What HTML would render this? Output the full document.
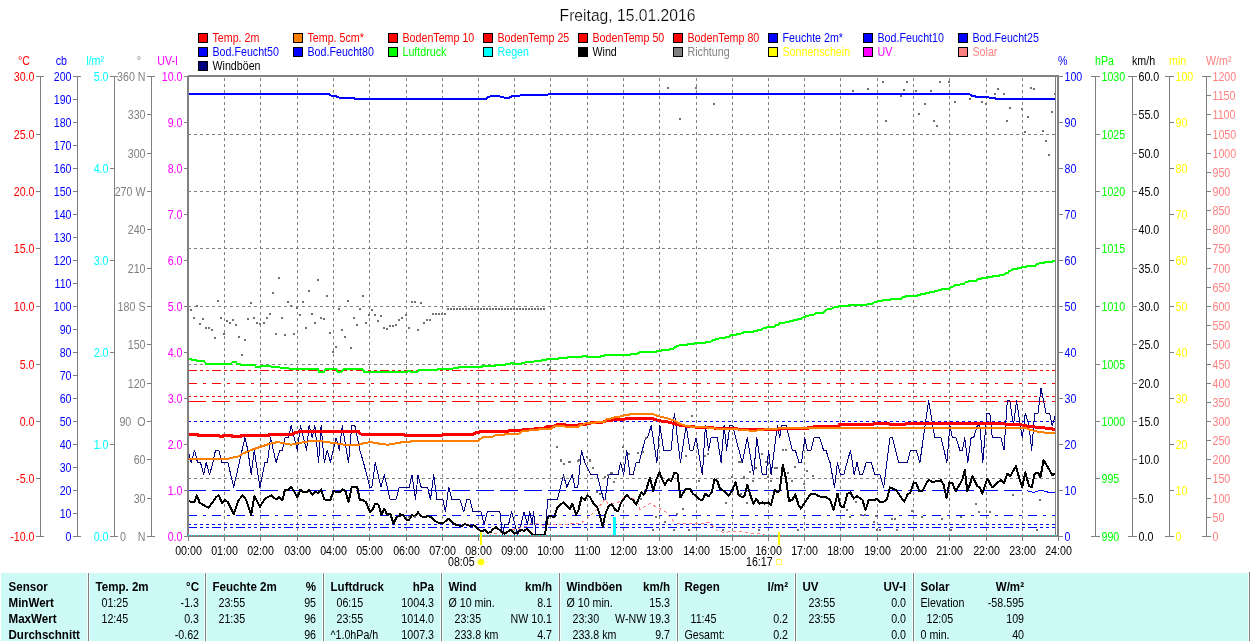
<!DOCTYPE html>
<html><head><meta charset="utf-8"><title>Freitag, 15.01.2016</title>
<style>
html,body{margin:0;padding:0;background:#fff;}
body{width:1250px;height:641px;overflow:hidden;position:relative;font-family:"Liberation Sans", sans-serif;}
svg{position:absolute;left:0;top:0;display:block;will-change:transform;}
text{font-family:"Liberation Sans", sans-serif;}
.ax{font-size:12px;}
.tm{font-size:12px;}
.tb{font-size:12px;}
.tbb{font-size:12px;font-weight:bold;}
</style></head><body>
<svg width="1250" height="641" viewBox="0 0 1250 641">
<rect x="0" y="0" width="1250" height="641" fill="#ffffff"/>
<text transform="translate(627.5 20.5) scale(0.98 1)" text-anchor="middle" fill="#000" font-size="16" stroke="#fff" stroke-width="0.25" paint-order="fill stroke">Freitag, 15.01.2016</text>
<g class="ax">
<rect x="198" y="33" width="10" height="10" fill="#000"/><rect x="199" y="34" width="8" height="8" fill="#ff0000"/>
<text transform="translate(212.5 42) scale(0.89 1)" fill="#ff0000">Temp. 2m</text>
<rect x="293" y="33" width="10" height="10" fill="#000"/><rect x="294" y="34" width="8" height="8" fill="#ff8000"/>
<text transform="translate(307.5 42) scale(0.89 1)" fill="#ff0000">Temp. 5cm*</text>
<rect x="388" y="33" width="10" height="10" fill="#000"/><rect x="389" y="34" width="8" height="8" fill="#ff0000"/>
<text transform="translate(402.5 42) scale(0.89 1)" fill="#ff0000">BodenTemp 10</text>
<rect x="483" y="33" width="10" height="10" fill="#000"/><rect x="484" y="34" width="8" height="8" fill="#ff0000"/>
<text transform="translate(497.5 42) scale(0.89 1)" fill="#ff0000">BodenTemp 25</text>
<rect x="578" y="33" width="10" height="10" fill="#000"/><rect x="579" y="34" width="8" height="8" fill="#ff0000"/>
<text transform="translate(592.5 42) scale(0.89 1)" fill="#ff0000">BodenTemp 50</text>
<rect x="673" y="33" width="10" height="10" fill="#000"/><rect x="674" y="34" width="8" height="8" fill="#ff0000"/>
<text transform="translate(687.5 42) scale(0.89 1)" fill="#ff0000">BodenTemp 80</text>
<rect x="768" y="33" width="10" height="10" fill="#000"/><rect x="769" y="34" width="8" height="8" fill="#0000ff"/>
<text transform="translate(782.5 42) scale(0.89 1)" fill="#0000ff">Feuchte 2m*</text>
<rect x="863" y="33" width="10" height="10" fill="#000"/><rect x="864" y="34" width="8" height="8" fill="#0000ff"/>
<text transform="translate(877.5 42) scale(0.89 1)" fill="#0000ff">Bod.Feucht10</text>
<rect x="958" y="33" width="10" height="10" fill="#000"/><rect x="959" y="34" width="8" height="8" fill="#0000ff"/>
<text transform="translate(972.5 42) scale(0.89 1)" fill="#0000ff">Bod.Feucht25</text>
<rect x="198" y="47" width="10" height="10" fill="#000"/><rect x="199" y="48" width="8" height="8" fill="#0000ff"/>
<text transform="translate(212.5 56) scale(0.89 1)" fill="#0000ff">Bod.Feucht50</text>
<rect x="293" y="47" width="10" height="10" fill="#000"/><rect x="294" y="48" width="8" height="8" fill="#0000ff"/>
<text transform="translate(307.5 56) scale(0.89 1)" fill="#0000ff">Bod.Feucht80</text>
<rect x="388" y="47" width="10" height="10" fill="#000"/><rect x="389" y="48" width="8" height="8" fill="#00ff00"/>
<text transform="translate(402.5 56) scale(0.89 1)" fill="#00ff00">Luftdruck</text>
<rect x="483" y="47" width="10" height="10" fill="#000"/><rect x="484" y="48" width="8" height="8" fill="#00ffff"/>
<text transform="translate(497.5 56) scale(0.89 1)" fill="#00ffff">Regen</text>
<rect x="578" y="47" width="10" height="10" fill="#000"/><rect x="579" y="48" width="8" height="8" fill="#000000"/>
<text transform="translate(592.5 56) scale(0.89 1)" fill="#000000">Wind</text>
<rect x="673" y="47" width="10" height="10" fill="#000"/><rect x="674" y="48" width="8" height="8" fill="#808080"/>
<text transform="translate(687.5 56) scale(0.89 1)" fill="#808080">Richtung</text>
<rect x="768" y="47" width="10" height="10" fill="#000"/><rect x="769" y="48" width="8" height="8" fill="#ffff00"/>
<text transform="translate(782.5 56) scale(0.89 1)" fill="#ffff00">Sonnenschein</text>
<rect x="863" y="47" width="10" height="10" fill="#000"/><rect x="864" y="48" width="8" height="8" fill="#ff00ff"/>
<text transform="translate(877.5 56) scale(0.89 1)" fill="#ff00ff">UV</text>
<rect x="958" y="47" width="10" height="10" fill="#000"/><rect x="959" y="48" width="8" height="8" fill="#ff8080"/>
<text transform="translate(972.5 56) scale(0.89 1)" fill="#ff8080">Solar</text>
<rect x="198" y="61" width="10" height="10" fill="#000"/><rect x="199" y="62" width="8" height="8" fill="#000080"/>
<text transform="translate(212.5 70) scale(0.89 1)" fill="#000000">Windböen</text>
</g>
<g shape-rendering="crispEdges" stroke="#808080" stroke-width="1" fill="none">
<line x1="224.5" y1="78" x2="224.5" y2="535" stroke-dasharray="3 3"/>
<line x1="260.5" y1="78" x2="260.5" y2="535" stroke-dasharray="3 3"/>
<line x1="297.5" y1="78" x2="297.5" y2="535" stroke-dasharray="3 3"/>
<line x1="333.5" y1="78" x2="333.5" y2="535" stroke-dasharray="3 3"/>
<line x1="369.5" y1="78" x2="369.5" y2="535" stroke-dasharray="3 3"/>
<line x1="406.5" y1="78" x2="406.5" y2="535" stroke-dasharray="3 3"/>
<line x1="442.5" y1="78" x2="442.5" y2="535" stroke-dasharray="3 3"/>
<line x1="478.5" y1="78" x2="478.5" y2="535" stroke-dasharray="3 3"/>
<line x1="514.5" y1="78" x2="514.5" y2="535" stroke-dasharray="3 3"/>
<line x1="550.5" y1="78" x2="550.5" y2="535" stroke-dasharray="3 3"/>
<line x1="587.5" y1="78" x2="587.5" y2="535" stroke-dasharray="3 3"/>
<line x1="623.5" y1="78" x2="623.5" y2="535" stroke-dasharray="3 3"/>
<line x1="659.5" y1="78" x2="659.5" y2="535" stroke-dasharray="3 3"/>
<line x1="696.5" y1="78" x2="696.5" y2="535" stroke-dasharray="3 3"/>
<line x1="732.5" y1="78" x2="732.5" y2="535" stroke-dasharray="3 3"/>
<line x1="768.5" y1="78" x2="768.5" y2="535" stroke-dasharray="3 3"/>
<line x1="804.5" y1="78" x2="804.5" y2="535" stroke-dasharray="3 3"/>
<line x1="840.5" y1="78" x2="840.5" y2="535" stroke-dasharray="3 3"/>
<line x1="877.5" y1="78" x2="877.5" y2="535" stroke-dasharray="3 3"/>
<line x1="913.5" y1="78" x2="913.5" y2="535" stroke-dasharray="3 3"/>
<line x1="949.5" y1="78" x2="949.5" y2="535" stroke-dasharray="3 3"/>
<line x1="986.5" y1="78" x2="986.5" y2="535" stroke-dasharray="3 3"/>
<line x1="1022.5" y1="78" x2="1022.5" y2="535" stroke-dasharray="3 3"/>
<line x1="188" y1="134.5" x2="1055" y2="134.5" stroke-dasharray="3 3"/>
<line x1="188" y1="191.5" x2="1055" y2="191.5" stroke-dasharray="3 3"/>
<line x1="188" y1="248.5" x2="1055" y2="248.5" stroke-dasharray="3 3"/>
<line x1="188" y1="306.5" x2="1055" y2="306.5" stroke-dasharray="3 3"/>
<line x1="188" y1="364.5" x2="1055" y2="364.5" stroke-dasharray="3 3"/>
<line x1="188" y1="421.5" x2="1055" y2="421.5" stroke-dasharray="3 3"/>
<line x1="188" y1="478.5" x2="1055" y2="478.5" stroke-dasharray="3 3"/>
</g>
<g shape-rendering="crispEdges" stroke-linejoin="round">
<line x1="188" y1="370.5" x2="1055" y2="370.5" stroke="#ff0000" stroke-dasharray="9 3 3 3 3 3"/>
<line x1="188" y1="383.5" x2="1055" y2="383.5" stroke="#ff0000" stroke-dasharray="9 6 3 6"/>
<line x1="188" y1="396.5" x2="1055" y2="396.5" stroke="#ff0000" stroke-dasharray="3 3"/>
<line x1="188" y1="401.5" x2="1055" y2="401.5" stroke="#ff0000" stroke-dasharray="18 6"/>
<line x1="188" y1="421.5" x2="1055" y2="421.5" stroke="#0000ff" stroke-dasharray="3 3"/>
<line x1="188" y1="490.5" x2="1027" y2="490.5" stroke="#0000ff" stroke-dasharray="18 6"/>
<polyline points="1027.2,490.5 1029.7,491.6 1033.5,492.4 1037.2,491.1 1041.0,490.5 1044.7,491.1 1049.0,492.5 1055.0,492.5" fill="none" stroke="#0000ff" stroke-width="1" />
<line x1="188" y1="515.5" x2="1055" y2="515.5" stroke="#0000ff" stroke-dasharray="9 6 3 6"/>
<line x1="188" y1="524.5" x2="1055" y2="524.5" stroke="#0000ff" stroke-dasharray="3 3"/>
<line x1="188" y1="527.5" x2="1055" y2="527.5" stroke="#0000ff" stroke-dasharray="9 3 3 3 3 3"/>
<polyline points="188.0,450.1 191.2,462.5 194.5,450.1 197.5,462.5 200.5,462.5 203.7,474.8 206.2,462.5 209.5,474.8 213.0,462.5 215.5,450.1 218.7,450.1 222.0,462.5 227.9,462.5 233.7,487.2 244.9,437.8 247.9,450.1 251.2,474.8 254.2,450.1 259.9,487.2 264.9,462.5 267.4,462.5 270.6,437.8 276.1,462.5 279.9,450.1 282.4,450.1 284.9,437.8 288.6,437.8 291.1,425.5 297.4,450.1 300.4,425.5 306.6,450.1 309.1,425.5 312.3,437.8 314.8,425.5 318.6,462.5 321.1,425.5 324.3,462.5 327.3,450.1 330.3,462.5 336.1,437.8 339.3,450.1 342.3,425.5 348.5,462.5 351.8,425.5 354.8,425.5 359.8,450.1 363.5,462.5 369.8,487.2 371.8,487.2 375.3,462.5 381.0,487.2 384.3,474.8 390.2,499.5 396.0,499.5 399.2,487.2 400.0,487.2 402.2,487.2 409.2,487.2 412.0,474.8 415.5,499.5 418.0,474.8 421.2,487.2 427.5,487.2 430.5,499.5 433.7,474.8 437.0,499.5 442.9,499.5 445.4,511.8 448.7,487.2 451.9,499.5 459.9,499.5 463.7,511.8 466.9,499.5 469.9,499.5 472.9,511.8 481.1,511.8 484.1,524.2 487.4,511.8 499.9,511.8 502.4,535.5 504.9,524.2 508.6,524.2 511.6,511.8 514.9,524.2 517.4,535.5 521.1,524.2 524.1,511.8 527.3,524.2 529.8,511.8 532.3,524.2 533.6,511.8 536.1,535.5 544.8,535.5 547.8,499.5 557.3,499.5 563.5,474.8 566.8,487.2 572.3,474.8 574.8,487.2 577.8,487.2 581.5,450.1 584.8,462.5 591.0,474.8 597.3,474.8 603.5,499.5 605.2,499.5 608.5,474.8 614.7,474.8 615.0,474.8 618.0,474.8 620.5,462.5 623.7,474.8 626.7,450.1 630.0,474.8 633.0,474.8 636.2,462.5 639.2,462.5 645.5,437.8 647.5,437.8 651.2,425.5 656.9,462.5 659.9,425.5 663.7,450.1 671.2,450.1 674.4,413.1 680.4,462.5 686.2,425.5 689.9,450.1 692.9,450.1 696.1,437.8 702.4,474.8 705.4,425.5 708.6,450.1 711.1,437.8 717.4,437.8 721.1,462.5 724.1,425.5 726.6,450.1 729.9,425.5 732.9,425.5 735.6,437.8 742.3,462.5 747.3,437.8 753.6,474.8 756.8,437.8 762.3,474.8 766.1,474.8 768.6,450.1 771.1,474.8 777.3,425.5 779.8,437.8 781.8,425.5 786.0,425.5 792.3,450.1 795.3,450.1 799.0,462.5 801.5,462.5 804.8,437.8 807.3,450.1 811.0,450.1 814.0,437.8 819.7,437.8 823.5,450.1 826.0,450.1 829.7,462.5 830.0,462.5 834.5,487.2 837.5,462.5 840.5,474.8 843.7,474.8 850.5,450.1 854.2,474.8 857.0,462.5 860.0,474.8 862.5,474.8 866.2,462.5 871.2,462.5 874.9,474.8 879.9,474.8 883.7,487.2 889.9,437.8 892.4,437.8 898.7,462.5 907.4,462.5 910.4,450.1 916.1,450.1 919.9,462.5 928.6,400.8 934.9,437.8 941.1,437.8 946.9,462.5 949.9,425.5 952.3,437.8 956.1,437.8 959.8,450.1 962.3,450.1 964.8,437.8 967.8,462.5 971.1,437.8 973.6,437.8 977.3,425.5 979.8,425.5 982.8,462.5 986.8,413.1 989.8,413.1 992.3,437.8 1001.0,437.8 1004.0,450.1 1007.3,400.8 1009.8,400.8 1013.5,425.5 1016.5,400.8 1022.3,437.8 1025.3,413.1 1029.0,425.5 1031.7,450.1 1034.7,413.1 1038.0,413.1 1041.0,388.5 1046.0,413.1 1049.7,413.1 1052.2,425.5 1056.0,413.1" fill="none" stroke="#000080" stroke-width="1" />
<polyline points="188.6,358.8 191.3,358.8 192.0,359.9 196.5,359.9 197.0,360.8 203.6,360.8 205.0,362.5 206.2,363.8 230.9,363.8 232.0,362.4 236.2,362.4 237.0,363.8 239.7,363.8 240.5,364.8 254.6,364.8 256.0,366.8 259.9,366.8 261.0,366.0 270.5,366.0 271.5,366.9 279.3,366.9 280.0,367.6 288.1,367.6 289.0,368.5 309.2,368.5 310.0,369.0 318.0,369.0 319.0,371.7 324.2,371.7 325.5,369.4 336.5,369.4 337.5,371.7 341.8,371.7 343.0,369.4 362.9,369.4 364.0,371.7 406.0,371.7 407.9,371.6 408.5,370.8 409.7,370.8 410.5,372.0 417.6,372.0 418.5,370.2 420.2,369.7 437.8,369.7 438.5,368.8 452.8,368.8 453.5,367.9 458.1,367.9 459.0,367.0 481.8,367.0 482.5,365.8 495.0,365.8 496.0,364.9 505.6,364.9 506.5,363.7 510.0,363.7 510.8,362.8 512.6,362.8 513.3,363.7 521.4,363.7 522.5,362.6 525.0,362.6 526.0,361.8 533.8,361.8 534.5,360.9 540.8,360.9 541.5,360.0 546.1,360.0 547.0,358.8 558.4,358.8 559.0,357.9 567.2,357.9 568.0,357.0 582.2,357.0 583.0,356.1 585.7,356.1 586.5,357.0 600.6,357.0 601.5,355.8 604.2,355.8 605.0,354.9 620.0,354.9 630.0,354.8 631.0,353.8 637.0,353.8 638.0,352.8 639.6,352.8 640.5,351.8 656.4,351.8 657.3,350.8 660.8,350.8 661.7,349.9 668.7,349.9 669.6,349.0 673.1,349.0 674.5,347.2 675.7,347.2 677.0,346.0 678.4,346.0 679.5,345.0 687.2,345.0 688.0,343.9 694.2,343.9 695.0,342.8 705.6,342.8 706.5,341.6 710.9,341.6 713.0,339.8 715.3,339.8 717.0,338.7 718.8,338.7 720.0,337.7 725.0,337.7 726.0,336.7 729.4,336.7 731.5,334.9 736.4,334.9 737.5,333.7 740.8,333.7 742.0,332.7 743.5,332.7 744.5,331.9 753.2,331.9 754.5,331.0 756.7,331.0 758.0,329.8 761.1,329.8 763.0,328.4 765.5,328.4 767.0,327.0 774.3,327.0 776.0,324.9 777.8,324.9 780.0,323.3 784.0,323.3 786.0,321.9 789.2,321.9 790.5,320.8 792.8,320.8 794.0,319.8 797.2,319.8 798.5,318.7 801.6,318.7 803.5,317.0 805.1,317.0 806.5,315.9 808.6,315.9 810.0,314.7 813.9,314.7 815.5,313.4 820.0,313.4 821.5,312.5 823.6,312.5 825.5,310.2 826.2,310.2 828.0,308.5 832.4,308.5 833.5,307.6 835.0,307.2 838.6,306.5 839.5,305.6 848.5,305.6 849.5,304.9 866.5,304.9 867.5,304.0 871.9,304.0 874.0,302.4 876.4,302.4 878.5,301.0 881.8,301.0 883.0,300.0 889.9,300.0 891.0,299.2 900.7,299.2 902.5,297.0 905.2,297.0 906.5,295.9 916.9,295.9 918.0,294.9 920.5,294.9 921.5,293.9 925.0,293.9 926.0,292.9 929.5,292.9 930.5,291.8 934.0,291.8 935.0,290.9 937.6,290.9 938.5,290.0 941.2,290.0 942.0,289.1 949.3,289.1 951.0,286.7 952.9,286.7 954.5,285.3 959.2,285.3 960.5,284.0 963.7,284.0 965.5,282.0 968.2,282.0 969.5,280.8 976.3,280.8 978.0,279.0 980.8,279.0 982.0,277.7 987.1,277.7 988.0,276.8 992.5,276.8 993.5,275.9 998.8,275.9 1000.5,274.5 1004.2,274.5 1005.5,273.0 1007.8,273.0 1009.5,270.5 1011.4,270.5 1012.5,269.1 1016.8,269.1 1018.0,267.8 1021.3,267.8 1022.3,266.9 1025.8,266.9 1027.0,265.9 1034.8,265.9 1036.5,264.2 1038.4,264.2 1039.5,263.0 1043.8,263.0 1045.0,262.1 1051.9,262.1 1053.0,261.0 1055.5,261.0" fill="none" stroke="#00ff00" stroke-width="2" />
<polyline points="188.0,94.0 329.0,94.0 331.0,95.5 335.0,96.0 339.0,97.5 354.0,97.5 355.0,99.0 486.0,99.0 488.4,96.7 494.4,96.0 499.0,96.2 505.0,97.7 509.0,97.7 512.4,96.2 519.6,95.7 523.0,94.8 547.0,94.8 549.6,94.0 969.2,94.0 971.6,95.7 978.8,97.2 994.4,97.7 995.6,99.0 1055.0,99.0" fill="none" stroke="#0000ff" stroke-width="2" />
<rect x="613" y="517" width="3" height="19" fill="#00ffff"/>
<polyline points="488.6,535.5 494.4,533.4 507.4,531.2 518.9,528.3 524.6,526.9 530.4,524.0 536.2,523.6 543.4,525.4 549.1,524.7 567.8,524.0 573.6,523.3 579.4,524.0 585.1,520.4 590.9,515.4 595.2,511.0 601.0,504.6 605.3,498.8 608.2,503.8 618.2,502.4 624.0,497.4 628.3,495.9 632.6,498.1 638.4,504.6 640.0,509.6 644.3,506.7 650.1,503.4 654.4,506.0 660.2,508.9 665.9,511.8 670.2,517.5 674.6,522.6 683.2,524.0 690.4,523.6 697.6,524.0 703.4,523.3 709.1,522.6 713.4,526.9 718.5,531.2 725.0,532.6 732.2,531.2 740.8,531.9 749.4,533.1 758.1,533.4 762.4,534.5 766.7,535.5" fill="none" stroke="#ff8080" stroke-width="1" stroke-dasharray="3 3"/>
<polyline points="188.0,499.9 191.2,502.3 194.5,501.8 197.0,495.4 199.5,502.3 203.0,504.8 208.7,507.8 212.5,502.3 216.2,496.9 218.7,495.4 222.0,502.8 225.0,499.9 227.9,502.3 233.7,514.1 238.7,499.9 242.9,495.4 246.2,499.9 251.2,514.8 254.4,496.1 259.9,506.8 264.9,498.6 271.1,495.4 276.1,499.4 279.4,496.9 282.4,500.3 284.9,489.9 288.6,489.9 291.1,486.9 294.1,491.1 297.4,497.4 300.4,489.9 303.6,492.4 306.6,492.4 309.1,489.9 312.3,494.9 315.3,491.9 318.6,492.9 321.1,489.4 324.3,499.4 327.3,500.3 330.3,499.9 333.6,491.1 339.3,492.4 342.3,489.4 345.5,491.1 348.5,502.3 351.8,486.9 357.3,487.4 359.8,499.9 362.8,499.9 366.0,502.3 369.8,511.8 372.3,509.8 375.3,503.6 378.5,504.8 381.5,514.8 384.3,508.6 387.2,514.8 390.2,513.6 393.5,523.6 396.7,516.8 399.7,516.1 400.0,514.3 403.0,514.8 406.2,519.8 409.2,519.8 412.0,514.8 415.0,516.8 418.0,512.3 421.2,516.1 424.5,517.3 427.5,516.1 430.5,516.8 433.7,519.8 437.0,522.3 440.0,522.8 442.9,523.6 445.4,521.1 448.7,518.6 451.9,522.3 454.9,524.3 457.9,525.3 461.2,526.1 464.4,524.3 467.4,524.8 470.4,526.1 473.7,525.3 476.2,527.3 478.7,529.3 481.6,531.8 484.9,529.8 487.4,532.8 490.4,532.3 493.6,528.6 496.1,527.3 499.4,529.8 502.4,532.8 504.9,533.6 508.6,531.1 511.1,529.8 514.9,533.6 517.4,532.8 521.1,529.8 524.1,531.1 527.3,528.6 529.8,531.8 532.8,534.8 536.1,535.3 544.8,535.3 547.8,516.8 551.1,516.1 554.3,517.3 557.3,507.3 560.5,504.8 563.5,502.3 566.8,506.1 569.8,509.3 572.3,503.6 576.0,514.8 578.5,509.8 581.5,497.4 584.8,499.9 587.3,495.4 590.3,497.4 593.5,503.6 597.3,507.3 599.8,514.8 602.7,526.8 605.2,514.8 608.5,506.1 611.7,504.3 614.2,507.8 615.0,509.8 618.0,511.1 621.2,502.3 626.7,494.9 630.0,498.6 633.0,499.9 636.2,504.8 639.2,497.4 641.2,492.4 643.7,494.9 646.2,489.9 650.0,477.4 653.2,491.1 656.2,479.9 659.4,472.4 662.4,479.9 664.9,484.9 668.2,479.4 671.2,481.1 674.4,472.9 677.4,473.6 680.4,497.4 686.2,488.6 689.9,488.6 692.9,493.6 696.1,496.1 699.9,499.4 702.4,500.3 705.4,493.6 708.6,496.1 711.9,492.4 714.4,479.4 717.4,481.1 719.9,488.6 724.1,491.1 728.6,496.1 732.4,489.9 735.6,482.4 738.6,494.9 742.3,497.4 744.8,494.9 747.3,484.9 751.1,497.4 753.6,503.6 756.1,498.6 759.3,503.6 762.3,502.3 764.8,503.6 768.6,502.3 771.1,504.8 774.8,489.9 777.3,492.4 779.8,489.9 782.8,464.9 786.0,478.6 789.0,501.1 792.3,499.9 795.3,494.4 798.5,504.8 801.0,508.6 804.8,502.3 811.0,493.6 814.8,493.6 818.5,496.1 822.2,496.9 826.0,496.9 829.2,499.4 830.0,499.9 833.7,509.8 837.5,493.6 840.5,506.1 843.7,507.3 847.5,493.6 850.5,492.4 853.7,498.6 857.0,496.1 862.5,499.9 865.5,510.3 868.7,499.9 877.4,499.4 879.9,501.8 883.7,501.8 886.9,499.4 889.9,487.4 896.2,489.9 899.9,495.4 904.2,501.8 907.4,494.9 910.4,492.4 913.6,482.4 916.1,482.9 919.4,491.1 922.4,491.1 926.1,483.6 929.1,479.9 932.4,481.9 941.1,480.4 943.6,484.9 946.6,497.9 949.4,482.4 952.3,482.9 955.6,491.1 962.3,479.9 964.8,469.9 967.3,491.1 969.8,484.9 972.3,476.1 977.3,486.1 979.8,487.4 982.3,493.6 987.3,478.6 992.3,487.4 994.8,484.9 1001.0,479.9 1004.0,483.6 1007.3,473.6 1010.3,476.1 1016.0,466.1 1019.3,478.6 1022.3,487.4 1025.3,472.4 1029.0,486.1 1031.7,487.4 1034.7,473.6 1038.0,472.4 1040.5,477.4 1043.5,459.9 1047.2,466.1 1052.2,474.9 1056.0,473.6" fill="none" stroke="#000000" stroke-width="2" />
<rect x="190" y="309" width="2" height="2" fill="#707070"/>
<rect x="193" y="317" width="2" height="2" fill="#707070"/>
<rect x="196" y="305" width="2" height="2" fill="#707070"/>
<rect x="199" y="323" width="2" height="2" fill="#707070"/>
<rect x="202" y="318" width="2" height="2" fill="#707070"/>
<rect x="205" y="327" width="2" height="2" fill="#707070"/>
<rect x="208" y="327" width="2" height="2" fill="#707070"/>
<rect x="211" y="329" width="2" height="2" fill="#707070"/>
<rect x="214" y="337" width="2" height="2" fill="#707070"/>
<rect x="217" y="300" width="2" height="2" fill="#707070"/>
<rect x="220" y="317" width="2" height="2" fill="#707070"/>
<rect x="223" y="333" width="2" height="2" fill="#707070"/>
<rect x="226" y="320" width="2" height="2" fill="#707070"/>
<rect x="229" y="322" width="2" height="2" fill="#707070"/>
<rect x="232" y="319" width="2" height="2" fill="#707070"/>
<rect x="235" y="324" width="2" height="2" fill="#707070"/>
<rect x="238" y="336" width="2" height="2" fill="#707070"/>
<rect x="241" y="354" width="2" height="2" fill="#707070"/>
<rect x="244" y="339" width="2" height="2" fill="#707070"/>
<rect x="247" y="318" width="2" height="2" fill="#707070"/>
<rect x="250" y="302" width="2" height="2" fill="#707070"/>
<rect x="253" y="317" width="2" height="2" fill="#707070"/>
<rect x="256" y="322" width="2" height="2" fill="#707070"/>
<rect x="259" y="323" width="2" height="2" fill="#707070"/>
<rect x="263" y="322" width="2" height="2" fill="#707070"/>
<rect x="266" y="317" width="2" height="2" fill="#707070"/>
<rect x="269" y="313" width="2" height="2" fill="#707070"/>
<rect x="272" y="292" width="2" height="2" fill="#707070"/>
<rect x="275" y="333" width="2" height="2" fill="#707070"/>
<rect x="278" y="277" width="2" height="2" fill="#707070"/>
<rect x="281" y="317" width="2" height="2" fill="#707070"/>
<rect x="284" y="334" width="2" height="2" fill="#707070"/>
<rect x="287" y="301" width="2" height="2" fill="#707070"/>
<rect x="290" y="305" width="2" height="2" fill="#707070"/>
<rect x="293" y="333" width="2" height="2" fill="#707070"/>
<rect x="296" y="307" width="2" height="2" fill="#707070"/>
<rect x="299" y="314" width="2" height="2" fill="#707070"/>
<rect x="302" y="301" width="2" height="2" fill="#707070"/>
<rect x="305" y="327" width="2" height="2" fill="#707070"/>
<rect x="308" y="290" width="2" height="2" fill="#707070"/>
<rect x="311" y="313" width="2" height="2" fill="#707070"/>
<rect x="314" y="322" width="2" height="2" fill="#707070"/>
<rect x="317" y="279" width="2" height="2" fill="#707070"/>
<rect x="320" y="317" width="2" height="2" fill="#707070"/>
<rect x="323" y="318" width="2" height="2" fill="#707070"/>
<rect x="326" y="295" width="2" height="2" fill="#707070"/>
<rect x="329" y="332" width="2" height="2" fill="#707070"/>
<rect x="332" y="351" width="2" height="2" fill="#707070"/>
<rect x="335" y="346" width="2" height="2" fill="#707070"/>
<rect x="338" y="308" width="2" height="2" fill="#707070"/>
<rect x="341" y="329" width="2" height="2" fill="#707070"/>
<rect x="344" y="336" width="2" height="2" fill="#707070"/>
<rect x="347" y="300" width="2" height="2" fill="#707070"/>
<rect x="350" y="347" width="2" height="2" fill="#707070"/>
<rect x="353" y="317" width="2" height="2" fill="#707070"/>
<rect x="356" y="324" width="2" height="2" fill="#707070"/>
<rect x="359" y="308" width="2" height="2" fill="#707070"/>
<rect x="362" y="295" width="2" height="2" fill="#707070"/>
<rect x="365" y="322" width="2" height="2" fill="#707070"/>
<rect x="368" y="314" width="2" height="2" fill="#707070"/>
<rect x="371" y="309" width="2" height="2" fill="#707070"/>
<rect x="374" y="314" width="2" height="2" fill="#707070"/>
<rect x="377" y="320" width="2" height="2" fill="#707070"/>
<rect x="380" y="315" width="2" height="2" fill="#707070"/>
<rect x="383" y="327" width="2" height="2" fill="#707070"/>
<rect x="386" y="328" width="2" height="2" fill="#707070"/>
<rect x="389" y="325" width="2" height="2" fill="#707070"/>
<rect x="392" y="325" width="2" height="2" fill="#707070"/>
<rect x="395" y="324" width="2" height="2" fill="#707070"/>
<rect x="398" y="319" width="2" height="2" fill="#707070"/>
<rect x="401" y="317" width="2" height="2" fill="#707070"/>
<rect x="405" y="314" width="2" height="2" fill="#707070"/>
<rect x="408" y="327" width="2" height="2" fill="#707070"/>
<rect x="411" y="301" width="2" height="2" fill="#707070"/>
<rect x="414" y="301" width="2" height="2" fill="#707070"/>
<rect x="417" y="329" width="2" height="2" fill="#707070"/>
<rect x="420" y="302" width="2" height="2" fill="#707070"/>
<rect x="423" y="322" width="2" height="2" fill="#707070"/>
<rect x="426" y="319" width="2" height="2" fill="#707070"/>
<rect x="429" y="319" width="2" height="2" fill="#707070"/>
<rect x="432" y="313" width="2" height="2" fill="#707070"/>
<rect x="435" y="313" width="2" height="2" fill="#707070"/>
<rect x="438" y="313" width="2" height="2" fill="#707070"/>
<rect x="441" y="313" width="2" height="2" fill="#707070"/>
<rect x="444" y="313" width="2" height="2" fill="#707070"/>
<rect x="667" y="87" width="2" height="2" fill="#707070"/>
<rect x="695" y="87" width="2" height="2" fill="#707070"/>
<rect x="679" y="118" width="2" height="2" fill="#707070"/>
<rect x="713" y="103" width="2" height="2" fill="#707070"/>
<rect x="852" y="90" width="2" height="2" fill="#707070"/>
<rect x="867" y="88" width="2" height="2" fill="#707070"/>
<rect x="882" y="81" width="2" height="2" fill="#707070"/>
<rect x="885" y="120" width="2" height="2" fill="#707070"/>
<rect x="900" y="95" width="2" height="2" fill="#707070"/>
<rect x="903" y="89" width="2" height="2" fill="#707070"/>
<rect x="906" y="81" width="2" height="2" fill="#707070"/>
<rect x="915" y="90" width="2" height="2" fill="#707070"/>
<rect x="918" y="113" width="2" height="2" fill="#707070"/>
<rect x="924" y="103" width="2" height="2" fill="#707070"/>
<rect x="930" y="90" width="2" height="2" fill="#707070"/>
<rect x="933" y="120" width="2" height="2" fill="#707070"/>
<rect x="936" y="125" width="2" height="2" fill="#707070"/>
<rect x="939" y="81" width="2" height="2" fill="#707070"/>
<rect x="948" y="81" width="2" height="2" fill="#707070"/>
<rect x="954" y="101" width="2" height="2" fill="#707070"/>
<rect x="969" y="98" width="2" height="2" fill="#707070"/>
<rect x="981" y="101" width="2" height="2" fill="#707070"/>
<rect x="985" y="103" width="2" height="2" fill="#707070"/>
<rect x="994" y="93" width="2" height="2" fill="#707070"/>
<rect x="997" y="88" width="2" height="2" fill="#707070"/>
<rect x="1003" y="93" width="2" height="2" fill="#707070"/>
<rect x="1006" y="120" width="2" height="2" fill="#707070"/>
<rect x="1009" y="107" width="2" height="2" fill="#707070"/>
<rect x="1021" y="108" width="2" height="2" fill="#707070"/>
<rect x="1024" y="131" width="2" height="2" fill="#707070"/>
<rect x="1027" y="116" width="2" height="2" fill="#707070"/>
<rect x="1030" y="87" width="2" height="2" fill="#707070"/>
<rect x="1033" y="88" width="2" height="2" fill="#707070"/>
<rect x="1042" y="130" width="2" height="2" fill="#707070"/>
<rect x="1045" y="140" width="2" height="2" fill="#707070"/>
<rect x="1048" y="154" width="2" height="2" fill="#707070"/>
<rect x="1051" y="111" width="2" height="2" fill="#707070"/>
<rect x="1054" y="93" width="2" height="2" fill="#707070"/>
<rect x="556" y="446" width="2" height="2" fill="#707070"/>
<rect x="560" y="459" width="2" height="2" fill="#707070"/>
<rect x="563" y="463" width="2" height="2" fill="#707070"/>
<rect x="569" y="461" width="2" height="2" fill="#707070"/>
<rect x="578" y="459" width="2" height="2" fill="#707070"/>
<rect x="589" y="459" width="2" height="2" fill="#707070"/>
<rect x="592" y="467" width="2" height="2" fill="#707070"/>
<rect x="607" y="474" width="2" height="2" fill="#707070"/>
<rect x="611" y="472" width="2" height="2" fill="#707070"/>
<rect x="613" y="481" width="2" height="2" fill="#707070"/>
<rect x="596" y="491" width="2" height="2" fill="#707070"/>
<rect x="599" y="493" width="2" height="2" fill="#707070"/>
<rect x="408" y="516" width="2" height="2" fill="#707070"/>
<rect x="414" y="516" width="2" height="2" fill="#707070"/>
<rect x="640" y="498" width="2" height="2" fill="#707070"/>
<rect x="655" y="516" width="2" height="2" fill="#707070"/>
<rect x="664" y="521" width="2" height="2" fill="#707070"/>
<rect x="652" y="529" width="2" height="2" fill="#707070"/>
<rect x="673" y="529" width="2" height="2" fill="#707070"/>
<rect x="676" y="513" width="2" height="2" fill="#707070"/>
<rect x="682" y="508" width="2" height="2" fill="#707070"/>
<rect x="688" y="529" width="2" height="2" fill="#707070"/>
<rect x="698" y="480" width="2" height="2" fill="#707070"/>
<rect x="725" y="502" width="2" height="2" fill="#707070"/>
<rect x="722" y="529" width="2" height="2" fill="#707070"/>
<rect x="731" y="476" width="2" height="2" fill="#707070"/>
<rect x="740" y="493" width="2" height="2" fill="#707070"/>
<rect x="743" y="476" width="2" height="2" fill="#707070"/>
<rect x="746" y="502" width="2" height="2" fill="#707070"/>
<rect x="752" y="480" width="2" height="2" fill="#707070"/>
<rect x="749" y="471" width="2" height="2" fill="#707070"/>
<rect x="758" y="529" width="2" height="2" fill="#707070"/>
<rect x="770" y="480" width="2" height="2" fill="#707070"/>
<rect x="787" y="472" width="2" height="2" fill="#707070"/>
<rect x="791" y="480" width="2" height="2" fill="#707070"/>
<rect x="797" y="529" width="2" height="2" fill="#707070"/>
<rect x="803" y="483" width="2" height="2" fill="#707070"/>
<rect x="806" y="470" width="2" height="2" fill="#707070"/>
<rect x="812" y="475" width="2" height="2" fill="#707070"/>
<rect x="560" y="460" width="2" height="2" fill="#707070"/>
<rect x="568" y="461" width="2" height="2" fill="#707070"/>
<rect x="577" y="460" width="2" height="2" fill="#707070"/>
<rect x="586" y="456" width="2" height="2" fill="#707070"/>
<rect x="589" y="460" width="2" height="2" fill="#707070"/>
<rect x="592" y="467" width="2" height="2" fill="#707070"/>
<rect x="610" y="472" width="2" height="2" fill="#707070"/>
<rect x="622" y="446" width="2" height="2" fill="#707070"/>
<rect x="628" y="453" width="2" height="2" fill="#707070"/>
<rect x="637" y="452" width="2" height="2" fill="#707070"/>
<rect x="642" y="451" width="2" height="2" fill="#707070"/>
<rect x="645" y="437" width="2" height="2" fill="#707070"/>
<rect x="691" y="415" width="2" height="2" fill="#707070"/>
<rect x="685" y="455" width="2" height="2" fill="#707070"/>
<rect x="707" y="453" width="2" height="2" fill="#707070"/>
<rect x="704" y="455" width="2" height="2" fill="#707070"/>
<rect x="738" y="461" width="2" height="2" fill="#707070"/>
<rect x="740" y="461" width="2" height="2" fill="#707070"/>
<rect x="761" y="453" width="2" height="2" fill="#707070"/>
<rect x="765" y="461" width="2" height="2" fill="#707070"/>
<rect x="782" y="449" width="2" height="2" fill="#707070"/>
<rect x="785" y="449" width="2" height="2" fill="#707070"/>
<rect x="774" y="467" width="2" height="2" fill="#707070"/>
<rect x="776" y="467" width="2" height="2" fill="#707070"/>
<rect x="755" y="467" width="2" height="2" fill="#707070"/>
<rect x="749" y="471" width="2" height="2" fill="#707070"/>
<rect x="794" y="466" width="2" height="2" fill="#707070"/>
<rect x="563" y="476" width="2" height="2" fill="#707070"/>
<rect x="604" y="476" width="2" height="2" fill="#707070"/>
<rect x="743" y="477" width="2" height="2" fill="#707070"/>
<rect x="767" y="476" width="2" height="2" fill="#707070"/>
<rect x="846" y="509" width="2" height="2" fill="#707070"/>
<rect x="855" y="501" width="2" height="2" fill="#707070"/>
<rect x="849" y="516" width="2" height="2" fill="#707070"/>
<rect x="860" y="514" width="2" height="2" fill="#707070"/>
<rect x="864" y="514" width="2" height="2" fill="#707070"/>
<rect x="873" y="521" width="2" height="2" fill="#707070"/>
<rect x="875" y="515" width="2" height="2" fill="#707070"/>
<rect x="876" y="529" width="2" height="2" fill="#707070"/>
<rect x="879" y="529" width="2" height="2" fill="#707070"/>
<rect x="891" y="518" width="2" height="2" fill="#707070"/>
<rect x="894" y="518" width="2" height="2" fill="#707070"/>
<rect x="896" y="529" width="2" height="2" fill="#707070"/>
<rect x="911" y="510" width="2" height="2" fill="#707070"/>
<rect x="921" y="516" width="2" height="2" fill="#707070"/>
<rect x="941" y="518" width="2" height="2" fill="#707070"/>
<rect x="960" y="516" width="2" height="2" fill="#707070"/>
<rect x="975" y="503" width="2" height="2" fill="#707070"/>
<rect x="978" y="511" width="2" height="2" fill="#707070"/>
<rect x="989" y="511" width="2" height="2" fill="#707070"/>
<rect x="1012" y="494" width="2" height="2" fill="#707070"/>
<rect x="1039" y="499" width="2" height="2" fill="#707070"/>
<rect x="950" y="529" width="2" height="2" fill="#707070"/>
<rect x="1036" y="529" width="2" height="2" fill="#707070"/>
<rect x="447" y="308" width="2" height="2" fill="#707070"/>
<rect x="450" y="308" width="2" height="2" fill="#707070"/>
<rect x="453" y="308" width="2" height="2" fill="#707070"/>
<rect x="456" y="308" width="2" height="2" fill="#707070"/>
<rect x="459" y="308" width="2" height="2" fill="#707070"/>
<rect x="462" y="308" width="2" height="2" fill="#707070"/>
<rect x="465" y="308" width="2" height="2" fill="#707070"/>
<rect x="468" y="308" width="2" height="2" fill="#707070"/>
<rect x="471" y="308" width="2" height="2" fill="#707070"/>
<rect x="474" y="308" width="2" height="2" fill="#707070"/>
<rect x="477" y="308" width="2" height="2" fill="#707070"/>
<rect x="480" y="308" width="2" height="2" fill="#707070"/>
<rect x="483" y="308" width="2" height="2" fill="#707070"/>
<rect x="486" y="308" width="2" height="2" fill="#707070"/>
<rect x="489" y="308" width="2" height="2" fill="#707070"/>
<rect x="492" y="308" width="2" height="2" fill="#707070"/>
<rect x="495" y="308" width="2" height="2" fill="#707070"/>
<rect x="498" y="308" width="2" height="2" fill="#707070"/>
<rect x="501" y="308" width="2" height="2" fill="#707070"/>
<rect x="504" y="308" width="2" height="2" fill="#707070"/>
<rect x="507" y="308" width="2" height="2" fill="#707070"/>
<rect x="510" y="308" width="2" height="2" fill="#707070"/>
<rect x="513" y="308" width="2" height="2" fill="#707070"/>
<rect x="516" y="308" width="2" height="2" fill="#707070"/>
<rect x="519" y="308" width="2" height="2" fill="#707070"/>
<rect x="522" y="308" width="2" height="2" fill="#707070"/>
<rect x="525" y="308" width="2" height="2" fill="#707070"/>
<rect x="528" y="308" width="2" height="2" fill="#707070"/>
<rect x="531" y="308" width="2" height="2" fill="#707070"/>
<rect x="534" y="308" width="2" height="2" fill="#707070"/>
<rect x="537" y="308" width="2" height="2" fill="#707070"/>
<rect x="540" y="308" width="2" height="2" fill="#707070"/>
<rect x="543" y="308" width="2" height="2" fill="#707070"/>
<rect x="547" y="364" width="2" height="2" fill="#707070"/>
<rect x="549" y="368" width="2" height="2" fill="#707070"/>
<polyline points="188.0,434.5 198.0,434.5 198.5,435.5 219.4,435.5 220.0,436.5 223.0,436.5 223.5,435.5 232.0,435.5 232.5,436.5 240.5,436.5 241.0,435.5 268.7,435.5 269.5,434.5 291.6,434.5 293.0,433.5 296.0,432.5 300.0,431.5 358.5,431.5 360.0,433.5 362.0,434.5 403.0,434.5 404.4,434.5 405.0,435.5 442.0,435.5 443.0,434.5 473.0,434.5 476.0,432.6 482.7,431.5 507.4,431.5 509.0,430.5 521.4,430.5 523.0,429.4 533.8,429.4 536.0,428.0 544.3,428.0 547.0,426.5 554.9,426.0 557.0,424.7 565.4,424.7 568.0,426.0 576.0,425.5 580.0,424.7 586.6,424.0 592.0,422.6 602.4,422.2 606.0,420.8 611.2,420.5 615.0,419.6 622.0,419.3 630.8,418.5 652.0,418.5 655.0,419.6 659.0,420.5 663.0,421.4 667.8,422.0 671.0,422.8 674.8,423.8 679.0,424.9 683.6,425.8 690.0,426.7 697.7,427.2 705.0,427.6 713.6,428.0 722.0,428.4 729.4,428.7 738.0,429.0 745.2,429.4 764.6,429.5 780.0,429.0 796.3,428.8 802.0,428.5 808.0,428.5 808.5,427.5 814.0,427.5 814.5,426.5 838.5,426.5 839.5,424.5 872.8,424.5 874.0,423.5 889.0,423.5 890.0,424.5 905.2,424.5 906.0,423.5 1004.2,423.5 1006.0,424.5 1020.4,424.5 1024.0,425.6 1029.4,426.3 1034.0,426.9 1038.4,427.4 1044.0,427.9 1049.2,428.6 1055.0,429.3" fill="none" stroke="#ff0000" stroke-width="3" />
<polyline points="188.0,459.0 226.5,459.0 233.0,457.5 238.8,456.3 242.0,454.0 251.0,450.1 259.0,447.3 268.0,444.3 277.5,442.0 284.5,443.4 291.0,444.7 299.5,442.9 309.0,441.3 321.0,441.2 334.7,443.1 347.0,445.2 357.5,445.2 363.7,443.1 370.8,442.2 377.8,443.4 387.5,444.7 397.2,443.1 403.3,442.0 409.7,442.0 410.5,441.0 478.3,441.0 481.0,438.4 484.0,436.7 493.3,436.5 496.0,434.9 503.8,434.7 507.0,433.7 519.7,433.5 522.0,431.4 526.7,431.0 530.0,430.2 533.8,430.4 537.0,430.5 540.0,428.8 551.4,428.6 554.0,426.5 558.0,425.6 563.7,425.8 566.0,427.0 577.8,427.0 580.0,424.9 583.0,424.5 586.0,423.1 593.6,422.8 598.0,422.1 604.2,421.8 607.0,419.1 611.2,418.5 615.0,417.2 620.3,416.5 625.0,415.2 630.8,414.3 634.0,414.0 652.8,414.0 655.0,415.0 657.2,415.8 662.0,417.0 666.0,417.9 669.5,419.1 673.0,420.2 676.0,421.4 678.4,423.0 682.0,424.6 685.4,425.6 689.0,426.3 692.4,426.8 700.0,427.0 706.5,427.4 710.0,427.9 713.6,428.3 720.0,428.8 727.6,429.0 735.0,429.3 745.2,429.8 750.0,430.7 755.8,430.6 760.0,430.2 762.8,429.7 768.0,429.0 773.4,428.7 780.0,428.4 806.8,428.2 810.0,428.0 1025.8,428.0 1028.5,429.2 1031.2,430.0 1034.5,431.0 1038.4,431.8 1042.0,432.3 1045.6,432.7 1055.0,433.0" fill="none" stroke="#ff8000" stroke-width="2" />
</g>
<g shape-rendering="crispEdges" fill="#808080">
<rect x="187" y="76" width="2" height="461"/>
<rect x="188" y="75" width="871" height="2"/>
<rect x="1057" y="75" width="2" height="462"/>
<rect x="1055" y="77" width="1" height="458"/>
<rect x="187" y="535" width="872" height="2"/>
<rect x="188" y="537" width="1" height="4"/>
<rect x="224" y="537" width="1" height="4"/>
<rect x="260" y="537" width="1" height="4"/>
<rect x="297" y="537" width="1" height="4"/>
<rect x="333" y="537" width="1" height="4"/>
<rect x="369" y="537" width="1" height="4"/>
<rect x="406" y="537" width="1" height="4"/>
<rect x="442" y="537" width="1" height="4"/>
<rect x="478" y="537" width="1" height="4"/>
<rect x="514" y="537" width="1" height="4"/>
<rect x="550" y="537" width="1" height="4"/>
<rect x="587" y="537" width="1" height="4"/>
<rect x="623" y="537" width="1" height="4"/>
<rect x="659" y="537" width="1" height="4"/>
<rect x="696" y="537" width="1" height="4"/>
<rect x="732" y="537" width="1" height="4"/>
<rect x="768" y="537" width="1" height="4"/>
<rect x="804" y="537" width="1" height="4"/>
<rect x="840" y="537" width="1" height="4"/>
<rect x="877" y="537" width="1" height="4"/>
<rect x="913" y="537" width="1" height="4"/>
<rect x="949" y="537" width="1" height="4"/>
<rect x="986" y="537" width="1" height="4"/>
<rect x="1022" y="537" width="1" height="4"/>
<rect x="1058" y="537" width="1" height="4"/>
</g>
<g shape-rendering="crispEdges">
<line x1="188" y1="535.5" x2="1056" y2="535.5" stroke="#887878" stroke-width="1"/>
<line x1="188" y1="535.5" x2="1056" y2="535.5" stroke="#00ffff" stroke-width="1" stroke-dasharray="1 2"/>
</g>
<g shape-rendering="crispEdges" fill="#808080">
<rect x="40" y="76" width="1" height="461"/>
<rect x="36" y="76" width="8" height="1"/>
<rect x="36" y="536" width="8" height="1"/>
<rect x="36" y="76" width="4" height="1"/>
<rect x="36" y="134" width="4" height="1"/>
<rect x="36" y="191" width="4" height="1"/>
<rect x="36" y="248" width="4" height="1"/>
<rect x="36" y="306" width="4" height="1"/>
<rect x="36" y="364" width="4" height="1"/>
<rect x="36" y="421" width="4" height="1"/>
<rect x="36" y="478" width="4" height="1"/>
<rect x="36" y="536" width="4" height="1"/>
</g>
<g class="ax" fill="#ff0000" text-anchor="end">
<text transform="translate(34.5 80.5) scale(0.89 1)" text-anchor="end">30.0</text>
<text transform="translate(34.5 138.5) scale(0.89 1)" text-anchor="end">25.0</text>
<text transform="translate(34.5 195.5) scale(0.89 1)" text-anchor="end">20.0</text>
<text transform="translate(34.5 252.5) scale(0.89 1)" text-anchor="end">15.0</text>
<text transform="translate(34.5 310.5) scale(0.89 1)" text-anchor="end">10.0</text>
<text transform="translate(34.5 368.5) scale(0.89 1)" text-anchor="end">5.0</text>
<text transform="translate(34.5 425.5) scale(0.89 1)" text-anchor="end">0.0</text>
<text transform="translate(34.5 482.5) scale(0.89 1)" text-anchor="end">-5.0</text>
<text transform="translate(34.5 540.5) scale(0.89 1)" text-anchor="end">-10.0</text>
<text transform="translate(30 65) scale(0.89 1)" text-anchor="end">°C</text>
</g>
<g shape-rendering="crispEdges" fill="#808080">
<rect x="77" y="76" width="1" height="461"/>
<rect x="73" y="76" width="8" height="1"/>
<rect x="73" y="536" width="8" height="1"/>
<rect x="73" y="76" width="4" height="1"/>
<rect x="73" y="99" width="4" height="1"/>
<rect x="73" y="122" width="4" height="1"/>
<rect x="73" y="145" width="4" height="1"/>
<rect x="73" y="168" width="4" height="1"/>
<rect x="73" y="191" width="4" height="1"/>
<rect x="73" y="214" width="4" height="1"/>
<rect x="73" y="237" width="4" height="1"/>
<rect x="73" y="260" width="4" height="1"/>
<rect x="73" y="283" width="4" height="1"/>
<rect x="73" y="306" width="4" height="1"/>
<rect x="73" y="329" width="4" height="1"/>
<rect x="73" y="352" width="4" height="1"/>
<rect x="73" y="375" width="4" height="1"/>
<rect x="73" y="398" width="4" height="1"/>
<rect x="73" y="421" width="4" height="1"/>
<rect x="73" y="444" width="4" height="1"/>
<rect x="73" y="467" width="4" height="1"/>
<rect x="73" y="490" width="4" height="1"/>
<rect x="73" y="513" width="4" height="1"/>
<rect x="73" y="536" width="4" height="1"/>
</g>
<g class="ax" fill="#0000ff" text-anchor="end">
<text transform="translate(71.5 80.5) scale(0.89 1)" text-anchor="end">200</text>
<text transform="translate(71.5 103.5) scale(0.89 1)" text-anchor="end">190</text>
<text transform="translate(71.5 126.5) scale(0.89 1)" text-anchor="end">180</text>
<text transform="translate(71.5 149.5) scale(0.89 1)" text-anchor="end">170</text>
<text transform="translate(71.5 172.5) scale(0.89 1)" text-anchor="end">160</text>
<text transform="translate(71.5 195.5) scale(0.89 1)" text-anchor="end">150</text>
<text transform="translate(71.5 218.5) scale(0.89 1)" text-anchor="end">140</text>
<text transform="translate(71.5 241.5) scale(0.89 1)" text-anchor="end">130</text>
<text transform="translate(71.5 264.5) scale(0.89 1)" text-anchor="end">120</text>
<text transform="translate(71.5 287.5) scale(0.89 1)" text-anchor="end">110</text>
<text transform="translate(71.5 310.5) scale(0.89 1)" text-anchor="end">100</text>
<text transform="translate(71.5 333.5) scale(0.89 1)" text-anchor="end">90</text>
<text transform="translate(71.5 356.5) scale(0.89 1)" text-anchor="end">80</text>
<text transform="translate(71.5 379.5) scale(0.89 1)" text-anchor="end">70</text>
<text transform="translate(71.5 402.5) scale(0.89 1)" text-anchor="end">60</text>
<text transform="translate(71.5 425.5) scale(0.89 1)" text-anchor="end">50</text>
<text transform="translate(71.5 448.5) scale(0.89 1)" text-anchor="end">40</text>
<text transform="translate(71.5 471.5) scale(0.89 1)" text-anchor="end">30</text>
<text transform="translate(71.5 494.5) scale(0.89 1)" text-anchor="end">20</text>
<text transform="translate(71.5 517.5) scale(0.89 1)" text-anchor="end">10</text>
<text transform="translate(71.5 540.5) scale(0.89 1)" text-anchor="end">0</text>
<text transform="translate(67 65) scale(0.89 1)" text-anchor="end">cb</text>
</g>
<g shape-rendering="crispEdges" fill="#808080">
<rect x="114" y="76" width="1" height="461"/>
<rect x="110" y="76" width="8" height="1"/>
<rect x="110" y="536" width="8" height="1"/>
<rect x="110" y="76" width="4" height="1"/>
<rect x="110" y="168" width="4" height="1"/>
<rect x="110" y="260" width="4" height="1"/>
<rect x="110" y="352" width="4" height="1"/>
<rect x="110" y="444" width="4" height="1"/>
<rect x="110" y="536" width="4" height="1"/>
</g>
<g class="ax" fill="#00ffff" text-anchor="end">
<text transform="translate(108.5 80.5) scale(0.89 1)" text-anchor="end">5.0</text>
<text transform="translate(108.5 172.5) scale(0.89 1)" text-anchor="end">4.0</text>
<text transform="translate(108.5 264.5) scale(0.89 1)" text-anchor="end">3.0</text>
<text transform="translate(108.5 356.5) scale(0.89 1)" text-anchor="end">2.0</text>
<text transform="translate(108.5 448.5) scale(0.89 1)" text-anchor="end">1.0</text>
<text transform="translate(108.5 540.5) scale(0.89 1)" text-anchor="end">0.0</text>
<text transform="translate(104 65) scale(0.89 1)" text-anchor="end">l/m²</text>
</g>
<g shape-rendering="crispEdges" fill="#808080">
<rect x="151" y="76" width="1" height="461"/>
<rect x="147" y="76" width="8" height="1"/>
<rect x="147" y="536" width="8" height="1"/>
<rect x="147" y="76" width="4" height="1"/>
<rect x="147" y="114" width="4" height="1"/>
<rect x="147" y="153" width="4" height="1"/>
<rect x="147" y="191" width="4" height="1"/>
<rect x="147" y="229" width="4" height="1"/>
<rect x="147" y="268" width="4" height="1"/>
<rect x="147" y="306" width="4" height="1"/>
<rect x="147" y="344" width="4" height="1"/>
<rect x="147" y="383" width="4" height="1"/>
<rect x="147" y="421" width="4" height="1"/>
<rect x="147" y="459" width="4" height="1"/>
<rect x="147" y="498" width="4" height="1"/>
<rect x="147" y="536" width="4" height="1"/>
</g>
<g class="ax" fill="#808080" text-anchor="end">
<text transform="translate(145.5 80.5) scale(0.89 1)" text-anchor="end">360 N</text>
<text transform="translate(145.5 118.5) scale(0.89 1)" text-anchor="end">330</text>
<text transform="translate(145.5 157.5) scale(0.89 1)" text-anchor="end">300</text>
<text transform="translate(145.5 195.5) scale(0.89 1)" text-anchor="end">270 W</text>
<text transform="translate(145.5 233.5) scale(0.89 1)" text-anchor="end">240</text>
<text transform="translate(145.5 272.5) scale(0.89 1)" text-anchor="end">210</text>
<text transform="translate(145.5 310.5) scale(0.89 1)" text-anchor="end">180 S</text>
<text transform="translate(145.5 348.5) scale(0.89 1)" text-anchor="end">150</text>
<text transform="translate(145.5 387.5) scale(0.89 1)" text-anchor="end">120</text>
<text transform="translate(145.5 425.5) scale(0.89 1)" text-anchor="end">90  O</text>
<text transform="translate(145.5 463.5) scale(0.89 1)" text-anchor="end">60</text>
<text transform="translate(145.5 502.5) scale(0.89 1)" text-anchor="end">30</text>
<text transform="translate(145.5 540.5) scale(0.89 1)" text-anchor="end">0    N</text>
<text transform="translate(141 65) scale(0.89 1)" text-anchor="end">°</text>
</g>
<g shape-rendering="crispEdges" fill="#808080">
<rect x="184" y="76" width="3" height="1"/>
<rect x="184" y="122" width="3" height="1"/>
<rect x="184" y="168" width="3" height="1"/>
<rect x="184" y="214" width="3" height="1"/>
<rect x="184" y="260" width="3" height="1"/>
<rect x="184" y="306" width="3" height="1"/>
<rect x="184" y="352" width="3" height="1"/>
<rect x="184" y="398" width="3" height="1"/>
<rect x="184" y="444" width="3" height="1"/>
<rect x="184" y="490" width="3" height="1"/>
<rect x="184" y="536" width="3" height="1"/>
</g>
<g class="ax" fill="#ff00ff" text-anchor="end">
<text transform="translate(182.5 80.5) scale(0.89 1)" text-anchor="end">10.0</text>
<text transform="translate(182.5 126.5) scale(0.89 1)" text-anchor="end">9.0</text>
<text transform="translate(182.5 172.5) scale(0.89 1)" text-anchor="end">8.0</text>
<text transform="translate(182.5 218.5) scale(0.89 1)" text-anchor="end">7.0</text>
<text transform="translate(182.5 264.5) scale(0.89 1)" text-anchor="end">6.0</text>
<text transform="translate(182.5 310.5) scale(0.89 1)" text-anchor="end">5.0</text>
<text transform="translate(182.5 356.5) scale(0.89 1)" text-anchor="end">4.0</text>
<text transform="translate(182.5 402.5) scale(0.89 1)" text-anchor="end">3.0</text>
<text transform="translate(182.5 448.5) scale(0.89 1)" text-anchor="end">2.0</text>
<text transform="translate(182.5 494.5) scale(0.89 1)" text-anchor="end">1.0</text>
<text transform="translate(182.5 540.5) scale(0.89 1)" text-anchor="end">0.0</text>
<text transform="translate(178 65) scale(0.89 1)" text-anchor="end">UV-I</text>
</g>
<g shape-rendering="crispEdges" fill="#808080">
<rect x="1059" y="76" width="4" height="1"/>
<rect x="1059" y="122" width="4" height="1"/>
<rect x="1059" y="168" width="4" height="1"/>
<rect x="1059" y="214" width="4" height="1"/>
<rect x="1059" y="260" width="4" height="1"/>
<rect x="1059" y="306" width="4" height="1"/>
<rect x="1059" y="352" width="4" height="1"/>
<rect x="1059" y="398" width="4" height="1"/>
<rect x="1059" y="444" width="4" height="1"/>
<rect x="1059" y="490" width="4" height="1"/>
<rect x="1059" y="536" width="4" height="1"/>
</g>
<g class="ax" fill="#0000ff">
<text transform="translate(1064.5 80.5) scale(0.89 1)">100</text>
<text transform="translate(1064.5 126.5) scale(0.89 1)">90</text>
<text transform="translate(1064.5 172.5) scale(0.89 1)">80</text>
<text transform="translate(1064.5 218.5) scale(0.89 1)">70</text>
<text transform="translate(1064.5 264.5) scale(0.89 1)">60</text>
<text transform="translate(1064.5 310.5) scale(0.89 1)">50</text>
<text transform="translate(1064.5 356.5) scale(0.89 1)">40</text>
<text transform="translate(1064.5 402.5) scale(0.89 1)">30</text>
<text transform="translate(1064.5 448.5) scale(0.89 1)">20</text>
<text transform="translate(1064.5 494.5) scale(0.89 1)">10</text>
<text transform="translate(1064.5 540.5) scale(0.89 1)">0</text>
<text transform="translate(1058 65) scale(0.89 1)">%</text>
</g>
<g shape-rendering="crispEdges" fill="#808080">
<rect x="1095" y="76" width="1" height="461"/>
<rect x="1091" y="76" width="8" height="1"/>
<rect x="1091" y="536" width="8" height="1"/>
<rect x="1096" y="76" width="4" height="1"/>
<rect x="1096" y="134" width="4" height="1"/>
<rect x="1096" y="191" width="4" height="1"/>
<rect x="1096" y="248" width="4" height="1"/>
<rect x="1096" y="306" width="4" height="1"/>
<rect x="1096" y="364" width="4" height="1"/>
<rect x="1096" y="421" width="4" height="1"/>
<rect x="1096" y="478" width="4" height="1"/>
<rect x="1096" y="536" width="4" height="1"/>
</g>
<g class="ax" fill="#00ff00">
<text transform="translate(1101.5 80.5) scale(0.89 1)">1030</text>
<text transform="translate(1101.5 138.5) scale(0.89 1)">1025</text>
<text transform="translate(1101.5 195.5) scale(0.89 1)">1020</text>
<text transform="translate(1101.5 252.5) scale(0.89 1)">1015</text>
<text transform="translate(1101.5 310.5) scale(0.89 1)">1010</text>
<text transform="translate(1101.5 368.5) scale(0.89 1)">1005</text>
<text transform="translate(1101.5 425.5) scale(0.89 1)">1000</text>
<text transform="translate(1101.5 482.5) scale(0.89 1)">995</text>
<text transform="translate(1101.5 540.5) scale(0.89 1)">990</text>
<text transform="translate(1095 65) scale(0.89 1)">hPa</text>
</g>
<g shape-rendering="crispEdges" fill="#808080">
<rect x="1132" y="76" width="1" height="461"/>
<rect x="1128" y="76" width="8" height="1"/>
<rect x="1128" y="536" width="8" height="1"/>
<rect x="1133" y="76" width="4" height="1"/>
<rect x="1133" y="114" width="4" height="1"/>
<rect x="1133" y="153" width="4" height="1"/>
<rect x="1133" y="191" width="4" height="1"/>
<rect x="1133" y="229" width="4" height="1"/>
<rect x="1133" y="268" width="4" height="1"/>
<rect x="1133" y="306" width="4" height="1"/>
<rect x="1133" y="344" width="4" height="1"/>
<rect x="1133" y="383" width="4" height="1"/>
<rect x="1133" y="421" width="4" height="1"/>
<rect x="1133" y="459" width="4" height="1"/>
<rect x="1133" y="498" width="4" height="1"/>
<rect x="1133" y="536" width="4" height="1"/>
</g>
<g class="ax" fill="#000000">
<text transform="translate(1138.5 80.5) scale(0.89 1)">60.0</text>
<text transform="translate(1138.5 118.5) scale(0.89 1)">55.0</text>
<text transform="translate(1138.5 157.5) scale(0.89 1)">50.0</text>
<text transform="translate(1138.5 195.5) scale(0.89 1)">45.0</text>
<text transform="translate(1138.5 233.5) scale(0.89 1)">40.0</text>
<text transform="translate(1138.5 272.5) scale(0.89 1)">35.0</text>
<text transform="translate(1138.5 310.5) scale(0.89 1)">30.0</text>
<text transform="translate(1138.5 348.5) scale(0.89 1)">25.0</text>
<text transform="translate(1138.5 387.5) scale(0.89 1)">20.0</text>
<text transform="translate(1138.5 425.5) scale(0.89 1)">15.0</text>
<text transform="translate(1138.5 463.5) scale(0.89 1)">10.0</text>
<text transform="translate(1138.5 502.5) scale(0.89 1)">5.0</text>
<text transform="translate(1138.5 540.5) scale(0.89 1)">0.0</text>
<text transform="translate(1132 65) scale(0.89 1)">km/h</text>
</g>
<g shape-rendering="crispEdges" fill="#808080">
<rect x="1169" y="76" width="1" height="461"/>
<rect x="1165" y="76" width="8" height="1"/>
<rect x="1165" y="536" width="8" height="1"/>
<rect x="1170" y="76" width="4" height="1"/>
<rect x="1170" y="122" width="4" height="1"/>
<rect x="1170" y="168" width="4" height="1"/>
<rect x="1170" y="214" width="4" height="1"/>
<rect x="1170" y="260" width="4" height="1"/>
<rect x="1170" y="306" width="4" height="1"/>
<rect x="1170" y="352" width="4" height="1"/>
<rect x="1170" y="398" width="4" height="1"/>
<rect x="1170" y="444" width="4" height="1"/>
<rect x="1170" y="490" width="4" height="1"/>
<rect x="1170" y="536" width="4" height="1"/>
</g>
<g class="ax" fill="#ffff00">
<text transform="translate(1175.5 80.5) scale(0.89 1)">100</text>
<text transform="translate(1175.5 126.5) scale(0.89 1)">90</text>
<text transform="translate(1175.5 172.5) scale(0.89 1)">80</text>
<text transform="translate(1175.5 218.5) scale(0.89 1)">70</text>
<text transform="translate(1175.5 264.5) scale(0.89 1)">60</text>
<text transform="translate(1175.5 310.5) scale(0.89 1)">50</text>
<text transform="translate(1175.5 356.5) scale(0.89 1)">40</text>
<text transform="translate(1175.5 402.5) scale(0.89 1)">30</text>
<text transform="translate(1175.5 448.5) scale(0.89 1)">20</text>
<text transform="translate(1175.5 494.5) scale(0.89 1)">10</text>
<text transform="translate(1175.5 540.5) scale(0.89 1)">0</text>
<text transform="translate(1169 65) scale(0.89 1)">min</text>
</g>
<g shape-rendering="crispEdges" fill="#808080">
<rect x="1206" y="76" width="1" height="461"/>
<rect x="1202" y="76" width="8" height="1"/>
<rect x="1202" y="536" width="8" height="1"/>
<rect x="1207" y="76" width="4" height="1"/>
<rect x="1207" y="95" width="4" height="1"/>
<rect x="1207" y="114" width="4" height="1"/>
<rect x="1207" y="134" width="4" height="1"/>
<rect x="1207" y="153" width="4" height="1"/>
<rect x="1207" y="172" width="4" height="1"/>
<rect x="1207" y="191" width="4" height="1"/>
<rect x="1207" y="210" width="4" height="1"/>
<rect x="1207" y="229" width="4" height="1"/>
<rect x="1207" y="248" width="4" height="1"/>
<rect x="1207" y="268" width="4" height="1"/>
<rect x="1207" y="287" width="4" height="1"/>
<rect x="1207" y="306" width="4" height="1"/>
<rect x="1207" y="325" width="4" height="1"/>
<rect x="1207" y="344" width="4" height="1"/>
<rect x="1207" y="364" width="4" height="1"/>
<rect x="1207" y="383" width="4" height="1"/>
<rect x="1207" y="402" width="4" height="1"/>
<rect x="1207" y="421" width="4" height="1"/>
<rect x="1207" y="440" width="4" height="1"/>
<rect x="1207" y="459" width="4" height="1"/>
<rect x="1207" y="478" width="4" height="1"/>
<rect x="1207" y="498" width="4" height="1"/>
<rect x="1207" y="517" width="4" height="1"/>
<rect x="1207" y="536" width="4" height="1"/>
</g>
<g class="ax" fill="#ff8080">
<text transform="translate(1212.5 80.5) scale(0.89 1)">1200</text>
<text transform="translate(1212.5 99.5) scale(0.89 1)">1150</text>
<text transform="translate(1212.5 118.5) scale(0.89 1)">1100</text>
<text transform="translate(1212.5 138.5) scale(0.89 1)">1050</text>
<text transform="translate(1212.5 157.5) scale(0.89 1)">1000</text>
<text transform="translate(1212.5 176.5) scale(0.89 1)">950</text>
<text transform="translate(1212.5 195.5) scale(0.89 1)">900</text>
<text transform="translate(1212.5 214.5) scale(0.89 1)">850</text>
<text transform="translate(1212.5 233.5) scale(0.89 1)">800</text>
<text transform="translate(1212.5 252.5) scale(0.89 1)">750</text>
<text transform="translate(1212.5 272.5) scale(0.89 1)">700</text>
<text transform="translate(1212.5 291.5) scale(0.89 1)">650</text>
<text transform="translate(1212.5 310.5) scale(0.89 1)">600</text>
<text transform="translate(1212.5 329.5) scale(0.89 1)">550</text>
<text transform="translate(1212.5 348.5) scale(0.89 1)">500</text>
<text transform="translate(1212.5 368.5) scale(0.89 1)">450</text>
<text transform="translate(1212.5 387.5) scale(0.89 1)">400</text>
<text transform="translate(1212.5 406.5) scale(0.89 1)">350</text>
<text transform="translate(1212.5 425.5) scale(0.89 1)">300</text>
<text transform="translate(1212.5 444.5) scale(0.89 1)">250</text>
<text transform="translate(1212.5 463.5) scale(0.89 1)">200</text>
<text transform="translate(1212.5 482.5) scale(0.89 1)">150</text>
<text transform="translate(1212.5 502.5) scale(0.89 1)">100</text>
<text transform="translate(1212.5 521.5) scale(0.89 1)">50</text>
<text transform="translate(1212.5 540.5) scale(0.89 1)">0</text>
<text transform="translate(1206 65) scale(0.89 1)">W/m²</text>
</g>
<g class="tm" fill="#000" text-anchor="middle">
<text transform="translate(188.5 555) scale(0.89 1)" text-anchor="middle">00:00</text>
<text transform="translate(224.5 555) scale(0.89 1)" text-anchor="middle">01:00</text>
<text transform="translate(260.5 555) scale(0.89 1)" text-anchor="middle">02:00</text>
<text transform="translate(297.5 555) scale(0.89 1)" text-anchor="middle">03:00</text>
<text transform="translate(333.5 555) scale(0.89 1)" text-anchor="middle">04:00</text>
<text transform="translate(369.5 555) scale(0.89 1)" text-anchor="middle">05:00</text>
<text transform="translate(406.5 555) scale(0.89 1)" text-anchor="middle">06:00</text>
<text transform="translate(442.5 555) scale(0.89 1)" text-anchor="middle">07:00</text>
<text transform="translate(478.5 555) scale(0.89 1)" text-anchor="middle">08:00</text>
<text transform="translate(514.5 555) scale(0.89 1)" text-anchor="middle">09:00</text>
<text transform="translate(550.5 555) scale(0.89 1)" text-anchor="middle">10:00</text>
<text transform="translate(587.5 555) scale(0.89 1)" text-anchor="middle">11:00</text>
<text transform="translate(623.5 555) scale(0.89 1)" text-anchor="middle">12:00</text>
<text transform="translate(659.5 555) scale(0.89 1)" text-anchor="middle">13:00</text>
<text transform="translate(696.5 555) scale(0.89 1)" text-anchor="middle">14:00</text>
<text transform="translate(732.5 555) scale(0.89 1)" text-anchor="middle">15:00</text>
<text transform="translate(768.5 555) scale(0.89 1)" text-anchor="middle">16:00</text>
<text transform="translate(804.5 555) scale(0.89 1)" text-anchor="middle">17:00</text>
<text transform="translate(840.5 555) scale(0.89 1)" text-anchor="middle">18:00</text>
<text transform="translate(877.5 555) scale(0.89 1)" text-anchor="middle">19:00</text>
<text transform="translate(913.5 555) scale(0.89 1)" text-anchor="middle">20:00</text>
<text transform="translate(949.5 555) scale(0.89 1)" text-anchor="middle">21:00</text>
<text transform="translate(986.5 555) scale(0.89 1)" text-anchor="middle">22:00</text>
<text transform="translate(1022.5 555) scale(0.89 1)" text-anchor="middle">23:00</text>
<text transform="translate(1058.5 555) scale(0.89 1)" text-anchor="middle">24:00</text>
</g>
<g class="tm" fill="#000">
<text transform="translate(448 566) scale(0.89 1)">08:05</text>
<text transform="translate(746 566) scale(0.89 1)">16:17</text>
</g>
<g>
<g stroke="#ffff9a" stroke-width="1">
<line x1="481" y1="562" x2="486.6" y2="562.0"/>
<line x1="481" y1="562" x2="485.0" y2="566.0"/>
<line x1="481" y1="562" x2="481.0" y2="567.6"/>
<line x1="481" y1="562" x2="477.0" y2="566.0"/>
<line x1="481" y1="562" x2="475.4" y2="562.0"/>
<line x1="481" y1="562" x2="477.0" y2="558.0"/>
<line x1="481" y1="562" x2="481.0" y2="556.4"/>
<line x1="481" y1="562" x2="485.0" y2="558.0"/>
</g>
<circle cx="481" cy="562" r="3.1" fill="#ffff00"/>
<rect x="776.5" y="559.5" width="5" height="5" fill="none" stroke="#ffff60" stroke-width="1" shape-rendering="crispEdges"/>
</g>
<rect x="1" y="573" width="1248" height="68" fill="#cdfaf6"/>
<g shape-rendering="crispEdges">
<rect x="87" y="573" width="3" height="68" fill="#f2fffd"/><rect x="88" y="573" width="1" height="68" fill="#808080"/>
<rect x="204" y="573" width="3" height="68" fill="#f2fffd"/><rect x="205" y="573" width="1" height="68" fill="#808080"/>
<rect x="322" y="573" width="3" height="68" fill="#f2fffd"/><rect x="323" y="573" width="1" height="68" fill="#808080"/>
<rect x="440" y="573" width="3" height="68" fill="#f2fffd"/><rect x="441" y="573" width="1" height="68" fill="#808080"/>
<rect x="558" y="573" width="3" height="68" fill="#f2fffd"/><rect x="559" y="573" width="1" height="68" fill="#808080"/>
<rect x="676" y="573" width="3" height="68" fill="#f2fffd"/><rect x="677" y="573" width="1" height="68" fill="#808080"/>
<rect x="794" y="573" width="3" height="68" fill="#f2fffd"/><rect x="795" y="573" width="1" height="68" fill="#808080"/>
<rect x="912" y="573" width="3" height="68" fill="#f2fffd"/><rect x="913" y="573" width="1" height="68" fill="#808080"/>
<rect x="1248" y="573" width="1" height="68" fill="#f2fffd"/><rect x="1249" y="572" width="1" height="69" fill="#808080"/>
</g>
<text transform="translate(8.5 591) scale(0.965 1)" fill="#000" class="tbb">Sensor</text>
<text transform="translate(8.5 607) scale(0.965 1)" fill="#000" class="tbb">MinWert</text>
<text transform="translate(8.5 623) scale(0.965 1)" fill="#000" class="tbb">MaxWert</text>
<text transform="translate(8.5 639) scale(0.965 1)" fill="#000" class="tbb">Durchschnitt</text>
<text transform="translate(95.5 591) scale(0.965 1)" fill="#000" class="tbb">Temp. 2m</text>
<text transform="translate(199 591) scale(0.965 1)" text-anchor="end" fill="#000" class="tbb">°C</text>
<text transform="translate(101.5 607) scale(0.89 1)" fill="#000" class="tb">01:25</text>
<text transform="translate(199 607) scale(0.89 1)" text-anchor="end" fill="#000" class="tb">-1.3</text>
<text transform="translate(101.5 623) scale(0.89 1)" fill="#000" class="tb">12:45</text>
<text transform="translate(199 623) scale(0.89 1)" text-anchor="end" fill="#000" class="tb">0.3</text>
<text transform="translate(199 639) scale(0.89 1)" text-anchor="end" fill="#000" class="tb">-0.62</text>
<text transform="translate(212.5 591) scale(0.965 1)" fill="#000" class="tbb">Feuchte 2m</text>
<text transform="translate(316 591) scale(0.965 1)" text-anchor="end" fill="#000" class="tbb">%</text>
<text transform="translate(218.5 607) scale(0.89 1)" fill="#000" class="tb">23:55</text>
<text transform="translate(316 607) scale(0.89 1)" text-anchor="end" fill="#000" class="tb">95</text>
<text transform="translate(218.5 623) scale(0.89 1)" fill="#000" class="tb">21:35</text>
<text transform="translate(316 623) scale(0.89 1)" text-anchor="end" fill="#000" class="tb">96</text>
<text transform="translate(316 639) scale(0.89 1)" text-anchor="end" fill="#000" class="tb">96</text>
<text transform="translate(330.5 591) scale(0.965 1)" fill="#000" class="tbb">Luftdruck</text>
<text transform="translate(434 591) scale(0.965 1)" text-anchor="end" fill="#000" class="tbb">hPa</text>
<text transform="translate(336.5 607) scale(0.89 1)" fill="#000" class="tb">06:15</text>
<text transform="translate(434 607) scale(0.89 1)" text-anchor="end" fill="#000" class="tb">1004.3</text>
<text transform="translate(336.5 623) scale(0.89 1)" fill="#000" class="tb">23:55</text>
<text transform="translate(434 623) scale(0.89 1)" text-anchor="end" fill="#000" class="tb">1014.0</text>
<text transform="translate(330.5 639) scale(0.89 1)" fill="#000" class="tb">^1.0hPa/h</text>
<text transform="translate(434 639) scale(0.89 1)" text-anchor="end" fill="#000" class="tb">1007.3</text>
<text transform="translate(448.5 591) scale(0.965 1)" fill="#000" class="tbb">Wind</text>
<text transform="translate(552 591) scale(0.965 1)" text-anchor="end" fill="#000" class="tbb">km/h</text>
<text transform="translate(448.5 607) scale(0.89 1)" fill="#000" class="tb">Ø 10 min.</text>
<text transform="translate(552 607) scale(0.89 1)" text-anchor="end" fill="#000" class="tb">8.1</text>
<text transform="translate(454.5 623) scale(0.89 1)" fill="#000" class="tb">23:35</text>
<text transform="translate(552 623) scale(0.89 1)" text-anchor="end" fill="#000" class="tb">NW 10.1</text>
<text transform="translate(454.5 639) scale(0.89 1)" fill="#000" class="tb">233.8 km</text>
<text transform="translate(552 639) scale(0.89 1)" text-anchor="end" fill="#000" class="tb">4.7</text>
<text transform="translate(566.5 591) scale(0.965 1)" fill="#000" class="tbb">Windböen</text>
<text transform="translate(670 591) scale(0.965 1)" text-anchor="end" fill="#000" class="tbb">km/h</text>
<text transform="translate(566.5 607) scale(0.89 1)" fill="#000" class="tb">Ø 10 min.</text>
<text transform="translate(670 607) scale(0.89 1)" text-anchor="end" fill="#000" class="tb">15.3</text>
<text transform="translate(572.5 623) scale(0.89 1)" fill="#000" class="tb">23:30</text>
<text transform="translate(670 623) scale(0.89 1)" text-anchor="end" fill="#000" class="tb">W-NW 19.3</text>
<text transform="translate(572.5 639) scale(0.89 1)" fill="#000" class="tb">233.8 km</text>
<text transform="translate(670 639) scale(0.89 1)" text-anchor="end" fill="#000" class="tb">9.7</text>
<text transform="translate(684.5 591) scale(0.965 1)" fill="#000" class="tbb">Regen</text>
<text transform="translate(788 591) scale(0.965 1)" text-anchor="end" fill="#000" class="tbb">l/m²</text>
<text transform="translate(690.5 623) scale(0.89 1)" fill="#000" class="tb">11:45</text>
<text transform="translate(788 623) scale(0.89 1)" text-anchor="end" fill="#000" class="tb">0.2</text>
<text transform="translate(684.5 639) scale(0.89 1)" fill="#000" class="tb">Gesamt:</text>
<text transform="translate(788 639) scale(0.89 1)" text-anchor="end" fill="#000" class="tb">0.2</text>
<text transform="translate(802.5 591) scale(0.965 1)" fill="#000" class="tbb">UV</text>
<text transform="translate(906 591) scale(0.965 1)" text-anchor="end" fill="#000" class="tbb">UV-I</text>
<text transform="translate(808.5 607) scale(0.89 1)" fill="#000" class="tb">23:55</text>
<text transform="translate(906 607) scale(0.89 1)" text-anchor="end" fill="#000" class="tb">0.0</text>
<text transform="translate(808.5 623) scale(0.89 1)" fill="#000" class="tb">23:55</text>
<text transform="translate(906 623) scale(0.89 1)" text-anchor="end" fill="#000" class="tb">0.0</text>
<text transform="translate(906 639) scale(0.89 1)" text-anchor="end" fill="#000" class="tb">0.0</text>
<text transform="translate(920.5 591) scale(0.965 1)" fill="#000" class="tbb">Solar</text>
<text transform="translate(1024 591) scale(0.965 1)" text-anchor="end" fill="#000" class="tbb">W/m²</text>
<text transform="translate(920.5 607) scale(0.89 1)" fill="#000" class="tb">Elevation</text>
<text transform="translate(1024 607) scale(0.89 1)" text-anchor="end" fill="#000" class="tb">-58.595</text>
<text transform="translate(926.5 623) scale(0.89 1)" fill="#000" class="tb">12:05</text>
<text transform="translate(1024 623) scale(0.89 1)" text-anchor="end" fill="#000" class="tb">109</text>
<text transform="translate(920.5 639) scale(0.89 1)" fill="#000" class="tb">0 min.</text>
<text transform="translate(1024 639) scale(0.89 1)" text-anchor="end" fill="#000" class="tb">40</text>
<g shape-rendering="crispEdges"><rect x="480" y="532" width="2" height="13" fill="#ffff00"/><rect x="778" y="532" width="2" height="13" fill="#ffff00"/></g>
</svg></body></html>
